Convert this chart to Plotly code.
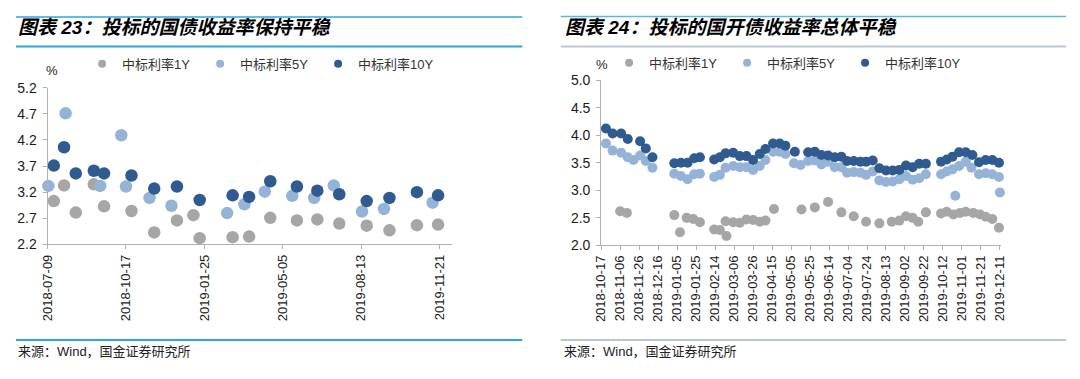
import plotly.graph_objects as go
import pandas as pd

# ---------------- 图表23: 投标的国债收益率 (day offsets from base date) ----------------
base23 = "2018-07-09"
d23_1y = [8, 21, 36, 59, 72, 107, 136, 165, 186, 194, 236, 257, 284, 318, 344, 372, 407, 436, 471, 498]
v23_1y = [3.03, 3.33, 2.81, 3.35, 2.93, 2.84, 2.43, 2.66, 2.76, 2.32, 2.34, 2.35, 2.71, 2.66, 2.68, 2.60,
          2.56, 2.47, 2.57, 2.58]
d23_5y = [1, 23, 67, 94, 100, 130, 158, 229, 251, 277, 312, 340, 365, 401, 429, 491]
v23_5y = [3.32, 4.71, 3.32, 4.29, 3.31, 3.09, 2.94, 2.80, 2.97, 3.21, 3.13, 3.09, 3.33, 2.83, 2.88, 3.00]
d23_10y = [8, 21, 36, 59, 72, 107, 136, 165, 194, 236, 257, 284, 318, 344, 372, 407, 436, 471, 498]
v23_10y = [3.71, 4.06, 3.56, 3.61, 3.56, 3.52, 3.27, 3.31, 3.05, 3.14, 3.11, 3.41, 3.31, 3.23, 3.16, 3.03,
           3.09, 3.20, 3.14]
ticks23 = ["2018-07-09", "2018-10-17", "2019-01-25", "2019-05-05", "2019-08-13", "2019-11-21"]

# ---------------- 图表24: 投标的国开债收益率 (day offsets from base date) ----------------
base24 = "2018-10-17"
d24_1y = [20, 27, 77, 83, 90, 97, 104, 119, 125, 131, 132, 139, 146, 153, 160, 167, 173, 182, 211, 225,
          239, 253, 266, 279, 293, 306, 314, 321, 328, 334, 342, 358, 364, 371, 378, 384, 392, 399, 405,
          412, 419]
v24_1y = [2.62, 2.59, 2.55, 2.24, 2.50, 2.48, 2.42, 2.29, 2.28, 2.44, 2.17, 2.42, 2.41, 2.47, 2.46, 2.43,
          2.45, 2.66, 2.65, 2.69, 2.79, 2.60, 2.53, 2.43, 2.40, 2.43, 2.45, 2.53, 2.50, 2.43, 2.60, 2.58,
          2.61, 2.56, 2.59, 2.61, 2.59, 2.56, 2.52, 2.48, 2.32]
d24_5y = [5, 12, 21, 28, 34, 41, 47, 54, 77, 84, 91, 98, 104, 119, 125, 131, 139, 146, 153, 160, 167,
          173, 181, 188, 194, 203, 210, 218, 225, 232, 239, 246, 253, 259, 266, 273, 279, 286, 293, 300,
          307, 314, 321, 328, 335, 342, 358, 364, 370, 373, 377, 384, 390, 398, 405, 412, 419, 420]
v24_5y = [3.85, 3.72, 3.68, 3.60, 3.55, 3.63, 3.53, 3.41, 3.30, 3.26, 3.20, 3.29, 3.30, 3.24, 3.28, 3.41,
          3.44, 3.42, 3.42, 3.37, 3.44, 3.55, 3.70, 3.70, 3.66, 3.49, 3.46, 3.53, 3.54, 3.47, 3.52, 3.42,
          3.42, 3.32, 3.33, 3.32, 3.28, 3.34, 3.18, 3.15, 3.16, 3.20, 3.26, 3.19, 3.22, 3.29, 3.29, 3.34,
          3.38, 2.90, 3.44, 3.52, 3.41, 3.29, 3.31, 3.29, 3.24, 2.96]
d24_10y = [5, 12, 21, 28, 41, 47, 54, 77, 84, 91, 98, 104, 119, 125, 131, 139, 146, 153, 160, 167, 173,
           181, 188, 194, 204, 218, 225, 232, 239, 246, 253, 259, 266, 273, 279, 286, 293, 300, 307, 314,
           321, 328, 335, 342, 358, 364, 370, 377, 384, 391, 398, 405, 412, 419]
v24_10y = [4.12, 4.03, 4.03, 3.93, 3.89, 3.76, 3.60, 3.49, 3.50, 3.50, 3.58, 3.60, 3.56, 3.60, 3.67, 3.68,
           3.62, 3.62, 3.55, 3.66, 3.75, 3.85, 3.85, 3.81, 3.70, 3.69, 3.70, 3.64, 3.63, 3.60, 3.61, 3.53,
           3.53, 3.52, 3.52, 3.54, 3.40, 3.36, 3.36, 3.37, 3.45, 3.42, 3.48, 3.48, 3.52, 3.56, 3.61, 3.69,
           3.69, 3.64, 3.51, 3.55, 3.55, 3.50]
ticks24 = ["2018-10-17", "2018-11-06", "2018-11-26", "2018-12-16", "2019-01-05", "2019-01-25",
           "2019-02-14", "2019-03-06", "2019-03-26", "2019-04-15", "2019-05-05", "2019-05-25",
           "2019-06-14", "2019-07-04", "2019-07-24", "2019-08-13", "2019-09-02", "2019-09-22",
           "2019-10-12", "2019-11-01", "2019-11-21", "2019-12-11"]

series_names = ["中标利率1Y", "中标利率5Y", "中标利率10Y"]
colors = ["#A6A6A6", "#95B3D7", "#2F5B91"]

# The page body has an 8px margin on every side; size the figure so the page never overflows
OFF = 8
W, H = 1080 - 2 * OFF, 379 - 2 * OFF


def px(x):
    return min(1.0, max(0.0, (x - OFF) / W))


def py(y):
    return 1 - (y - OFF) / H


def to_dates(base, days):
    b = pd.Timestamp(base)
    return [(b + pd.Timedelta(days=d)).strftime("%Y-%m-%d") for d in days]


FONT = "Liberation Sans, Arial, Noto Sans CJK SC"
fig = go.Figure()

panel23 = [(d23_1y, v23_1y), (d23_5y, v23_5y), (d23_10y, v23_10y)]
panel24 = [(d24_1y, v24_1y), (d24_5y, v24_5y), (d24_10y, v24_10y)]

for i, (d, v) in enumerate(panel23):
    fig.add_trace(go.Scatter(x=to_dates(base23, d), y=v, mode="markers", xaxis="x", yaxis="y",
                             marker=dict(size=12.5, color=colors[i]), showlegend=False,
                             cliponaxis=False, name=series_names[i]))
for i, (d, v) in enumerate(panel24):
    fig.add_trace(go.Scatter(x=to_dates(base24, d), y=v, mode="markers", xaxis="x2", yaxis="y2",
                             marker=dict(size=10, color=colors[i]), showlegend=False,
                             cliponaxis=False, name=series_names[i]))
# legend entries (small symbols as in the reference)
for lg, xa, ya in [("legend", "x", "y"), ("legend2", "x2", "y2")]:
    for i in range(3):
        fig.add_trace(go.Scatter(x=[None], y=[None], mode="markers", xaxis=xa, yaxis=ya,
                                 marker=dict(size=8, color=colors[i]), name=series_names[i],
                                 legend=lg, showlegend=True))

axis_common = dict(showline=True, linecolor="#B0B0B0", linewidth=1, ticks="outside", ticklen=4,
                   tickcolor="#B0B0B0", showgrid=False, zeroline=False)
xfont = dict(family=FONT, size=13, color="#1a1a1a")
yfont = dict(family=FONT, size=14, color="#1a1a1a")

fig.update_layout(
    width=W, height=H, autosize=False, margin=dict(l=0, r=0, t=0, b=0),
    paper_bgcolor="white", plot_bgcolor="white",
    xaxis=dict(domain=[px(40), px(450)], anchor="y", type="date",
               range=["2018-07-09", "2019-12-07"], tickvals=ticks23, ticktext=ticks23,
               tickangle=-90, tickfont=xfont, **axis_common),
    yaxis=dict(domain=[py(247), py(83)], anchor="x", range=[2.2, 5.2], tick0=2.2, dtick=0.5,
               tickformat=".1f", tickfont=yfont, ticklabelstandoff=3, **axis_common),
    xaxis2=dict(domain=[px(601), px(1006)], anchor="y2", type="date",
                range=["2018-10-17", "2019-12-12"], tickvals=ticks24, ticktext=ticks24,
                tickangle=-90, tickfont=xfont, **axis_common),
    yaxis2=dict(domain=[py(248), py(75)], anchor="x2", range=[2.0, 5.0], tick0=2.0, dtick=0.5,
                tickformat=".1f", tickfont=yfont, ticklabelstandoff=3, **axis_common),
    legend=dict(orientation="h", x=px(75), xanchor="left", y=py(58), yanchor="middle",
                font=dict(family=FONT, size=13, color="#333333"), bgcolor="rgba(0,0,0,0)",
                entrywidth=73, entrywidthmode="pixels", itemwidth=30, tracegroupgap=0),
    legend2=dict(orientation="h", x=px(609), xanchor="left", y=py(57), yanchor="middle",
                 font=dict(family=FONT, size=13, color="#333333"), bgcolor="rgba(0,0,0,0)",
                 entrywidth=73, entrywidthmode="pixels", itemwidth=30, tracegroupgap=0),
)

# titles, units, sources
ann = [
    dict(x=5, y=20, text="图表 23：投标的国债收益率保持平稳", size=19, bold=True),
    dict(x=562, y=20, text="图表 24：投标的国开债收益率总体平稳", size=19, bold=True),
    dict(x=36, y=65, text="%", size=13, bold=False),
    dict(x=594, y=59, text="%", size=13, bold=False),
    dict(x=5, y=359, text="来源：Wind，国金证券研究所", size=13, bold=False),
    dict(x=561, y=359, text="来源：Wind，国金证券研究所", size=13, bold=False),
]
for a in ann:
    f = dict(family=FONT, size=a["size"], color="#000000" if a["bold"] else "#222222")
    if a["bold"]:
        f.update(weight="bold", style="italic")
    fig.add_annotation(x=px(a["x"]), y=py(a["y"]), xref="paper", yref="paper", text=a["text"],
                       showarrow=False, xanchor="left", yanchor="middle", font=f)

# decorative separator lines
lines = [
    (3, 521, 9, "#2AA6E0", 1.5), (3, 521, 40, "#2AA6E0", 2), (3, 521, 347, "#2AA6E0", 2),
    (560, 1080, 8.5, "#5BB8E4", 1.5), (560, 1080, 40, "#B7C6D8", 2), (560, 1080, 347, "#B7C6D8", 2),
]
for x0, x1, yy, c, w in lines:
    fig.add_shape(type="line", xref="paper", yref="paper", x0=px(x0), x1=px(x1), y0=py(yy),
                  y1=py(yy), line=dict(color=c, width=w))

fig.write_html("out.html")
